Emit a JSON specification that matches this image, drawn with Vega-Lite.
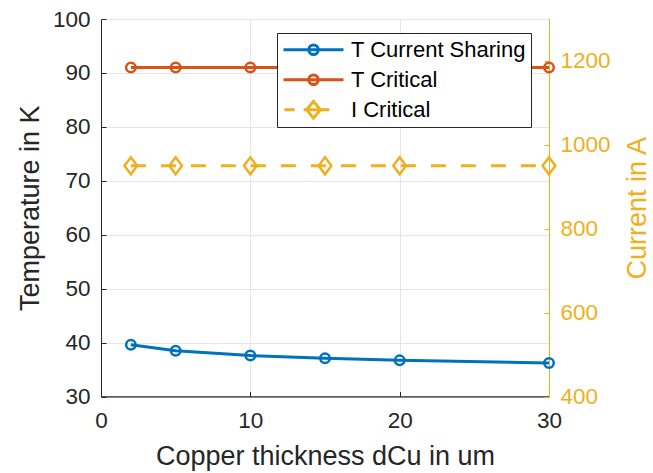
{
  "$schema": "https://vega.github.io/schema/vega-lite/v6.json",
  "width": 448,
  "height": 377.5,
  "autosize": {"type": "none"},
  "padding": {"left": 101, "top": 19, "right": 104, "bottom": 76.5},
  "background": "white",
  "config": {
    "font": "Liberation Sans",
    "view": {"stroke": "#262626", "strokeWidth": 1},
    "axis": {
      "domainColor": "#262626",
      "domainWidth": 1,
      "tickColor": "#262626",
      "tickSize": -5,
      "tickWidth": 1,
      "labelFontSize": 22.5,
      "labelColor": "#262626",
      "titleFontSize": 27,
      "titleFontWeight": "normal",
      "titleColor": "#262626",
      "gridColor": "#e6e6e6",
      "gridWidth": 1
    }
  },
  "data": {
    "values": [
      {"d": 2, "series": "T Current Sharing", "value": 39.6},
      {"d": 5, "series": "T Current Sharing", "value": 38.5},
      {"d": 10, "series": "T Current Sharing", "value": 37.6},
      {"d": 15, "series": "T Current Sharing", "value": 37.1},
      {"d": 20, "series": "T Current Sharing", "value": 36.7},
      {"d": 30, "series": "T Current Sharing", "value": 36.2},
      {"d": 2, "series": "T Critical", "value": 91},
      {"d": 5, "series": "T Critical", "value": 91},
      {"d": 10, "series": "T Critical", "value": 91},
      {"d": 15, "series": "T Critical", "value": 91},
      {"d": 20, "series": "T Critical", "value": 91},
      {"d": 30, "series": "T Critical", "value": 91},
      {"d": 2, "series": "I Critical", "value": 950},
      {"d": 5, "series": "I Critical", "value": 950},
      {"d": 10, "series": "I Critical", "value": 950},
      {"d": 15, "series": "I Critical", "value": 950},
      {"d": 20, "series": "I Critical", "value": 950},
      {"d": 30, "series": "I Critical", "value": 950}
    ]
  },
  "encoding": {
    "x": {
      "field": "d",
      "type": "quantitative",
      "scale": {"domain": [0, 30], "nice": false},
      "axis": {
        "values": [0, 10, 20, 30],
        "grid": true,
        "labelPadding": 18,
        "labelFlush": false,
        "title": "Copper thickness dCu in um",
        "titleBaseline": "alphabetic",
        "titleY": 67.5
      }
    }
  },
  "layer": [
    {
      "transform": [{"filter": "datum.series !== 'I Critical'"}],
      "encoding": {
        "y": {
          "field": "value",
          "type": "quantitative",
          "scale": {"domain": [30, 100], "nice": false, "zero": false},
          "axis": {
            "orient": "left",
            "values": [30, 40, 50, 60, 70, 80, 90, 100],
            "grid": true,
            "labelPadding": 16,
            "labelFlush": false,
            "title": "Temperature in K",
            "titleAngle": -90,
            "titleBaseline": "alphabetic",
            "titleX": -63
          }
        },
        "color": {
          "field": "series",
          "type": "nominal",
          "scale": {
            "domain": ["T Current Sharing", "T Critical", "I Critical"],
            "range": ["#0072BD", "#D95319", "#EDB120"]
          },
          "legend": {
            "title": null,
            "orient": "none",
            "legendX": 176,
            "legendY": 14,
            "padding": 5,
            "clipHeight": 23.5,
            "rowPadding": 6,
            "labelOffset": 6,
            "labelLimit": 400,
            "symbolSize": 3600,
            "symbolStrokeWidth": 3,
            "labelFontSize": 22,
            "labelColor": "#000000",
            "strokeColor": "#262626",
            "fillColor": "white",
            "encode": {
              "symbols": {
                "update": {
                  "shape": {"signal": "datum.value === 'I Critical' ? 'M-0.97,0H-0.63M-0.33,0H0.53M-0.23,0L0,-0.28L0.23,0L0,0.28Z' : 'M-1,0H1M-0.16,0A0.16,0.16 0 1,1 0.16,0A0.16,0.16 0 1,1 -0.16,0Z'"},
                  "fill": {"value": "transparent"},
                  "strokeWidth": {"value": 3},
                  "opacity": {"value": 1}
                }
              }
            }
          }
        }
      },
      "layer": [
        {"mark": {"type": "line", "strokeWidth": 3}},
        {
          "mark": {"type": "point", "shape": "circle", "filled": false, "size": 90, "strokeWidth": 2.5, "opacity": 1},
          "encoding": {"color": {"field": "series", "type": "nominal", "legend": null}}
        }
      ]
    },
    {
      "transform": [{"filter": "datum.series === 'I Critical'"}],
      "encoding": {
        "y": {
          "field": "value",
          "type": "quantitative",
          "scale": {"domain": [400, 1300], "nice": false, "zero": false},
          "axis": {
            "orient": "right",
            "values": [400, 600, 800, 1000, 1200],
            "format": "d",
            "grid": false,
            "labelPadding": 16,
            "labelFlush": false,
            "domainColor": "#EDB120",
            "tickColor": "#EDB120",
            "labelColor": "#EDB120",
            "titleColor": "#EDB120",
            "title": "Current in A",
            "titleAngle": -90,
            "titleBaseline": "alphabetic",
            "titleX": 96
          }
        },
        "color": {"field": "series", "type": "nominal", "legend": null}
      },
      "layer": [
        {"mark": {"type": "line", "strokeWidth": 3, "strokeDash": [15, 15]}},
        {"mark": {"type": "point", "shape": "M-0.75,0L0,-1L0.75,0L0,1Z", "filled": false, "size": 289, "strokeWidth": 2.5, "opacity": 1}}
      ]
    }
  ],
  "resolve": {"scale": {"y": "independent"}}
}
